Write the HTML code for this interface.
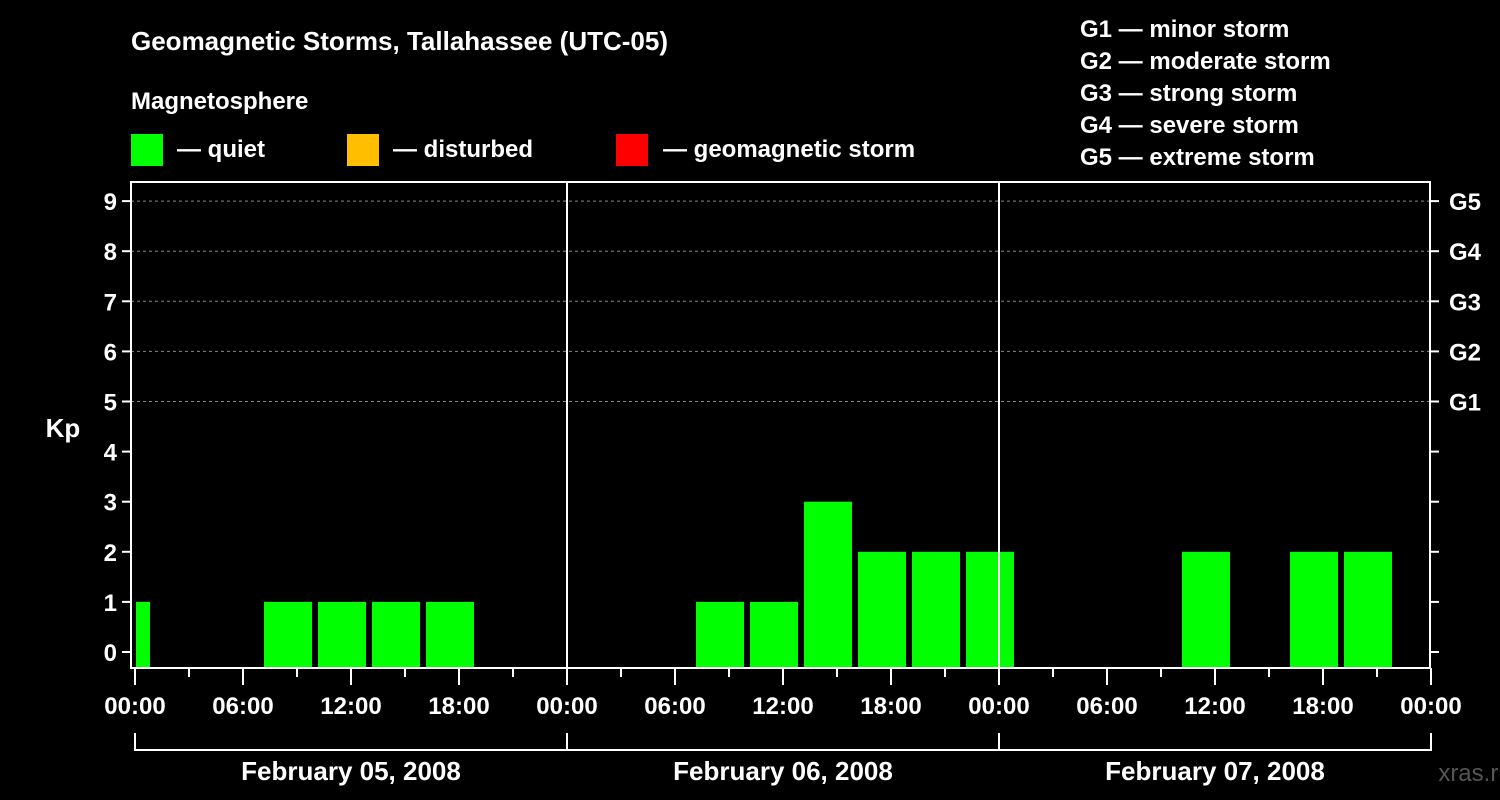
<!DOCTYPE html>
<html><head><meta charset="utf-8"><style>
body{margin:0;background:#000;}
svg{display:block;font-family:"Liberation Sans",sans-serif;font-weight:bold;}
</style></head><body>
<svg width="1500" height="800" viewBox="0 0 1500 800">
<rect x="0" y="0" width="1500" height="800" fill="#000"/>
<text x="131" y="50" font-size="26" fill="#fff">Geomagnetic Storms, Tallahassee (UTC-05)</text>
<text x="131" y="109" font-size="24" fill="#fff">Magnetosphere</text>
<g><rect x="131" y="134" width="32" height="32" fill="#00ff00"/><text x="177" y="157" font-size="24" fill="#fff">— quiet</text></g>
<g><rect x="347" y="134" width="32" height="32" fill="#ffbf00"/><text x="393" y="157" font-size="24" fill="#fff">— disturbed</text></g>
<g><rect x="616" y="134" width="32" height="32" fill="#ff0000"/><text x="663" y="157" font-size="24" fill="#fff">— geomagnetic storm</text></g>
<g font-size="24" fill="#fff">
<text x="1080" y="37">G1 — minor storm</text>
<text x="1080" y="69">G2 — moderate storm</text>
<text x="1080" y="101">G3 — strong storm</text>
<text x="1080" y="133">G4 — severe storm</text>
<text x="1080" y="165">G5 — extreme storm</text>
</g>
<text x="63" y="437" font-size="26" fill="#fff" text-anchor="middle">Kp</text>
<text x="1475" y="781" font-size="24" fill="#555" text-anchor="middle" font-weight="normal">xras.ru</text>
<g id="grid"></g>
<g id="bars"></g>
<g id="axes"></g>
</svg>
<script>
const kpValues = [1,0,0,1,1,1,1,0, 0,0,0,1,1,3,2,2, 2,0,0,0,2,0,2,2, 0];
const binStartHours = [-2,1,4,7,10,13,16,19, 22,25,28,31,34,37,40,43, 46,49,52,55,58,61,64,67, 70];
const dayLabels = ["February 05, 2008","February 06, 2008","February 07, 2008"];
const hourLabels = ["00:00","06:00","12:00","18:00"];
const yTicks = [0,1,2,3,4,5,6,7,8,9];
const gLabels = {5:"G1",6:"G2",7:"G3",8:"G4",9:"G5"};

const NS="http://www.w3.org/2000/svg";
const X0=135, PXH=18, LEFT=131, RIGHT=1430, TOP=182, BOT=668;
const xs=h=>X0+h*PXH;
const ys=k=>652-k*50.1;
function mk(tag,attrs,parent){const e=document.createElementNS(NS,tag);for(const k in attrs)e.setAttribute(k,attrs[k]);parent.appendChild(e);return e;}
const grid=document.getElementById('grid'),bars=document.getElementById('bars'),axes=document.getElementById('axes');

yTicks.forEach(k=>{
  if(k>=5){const l=mk('line',{x1:LEFT,x2:RIGHT,y1:ys(k),y2:ys(k),stroke:'#888','stroke-dasharray':'3,3','stroke-width':1},grid);
  
  }
  mk('line',{x1:LEFT-9,x2:LEFT,y1:ys(k),y2:ys(k),stroke:'#fff','stroke-width':2},axes);
  mk('line',{x1:RIGHT,x2:RIGHT+9,y1:ys(k),y2:ys(k),stroke:'#fff','stroke-width':2},axes);
  const t=mk('text',{x:LEFT-14,y:ys(k)+9,'font-size':24,fill:'#fff','text-anchor':'end'},axes);
  t.textContent=k;
  
  
  if(gLabels[k]){const g=mk('text',{x:RIGHT+19,y:ys(k)+9,'font-size':24,fill:'#fff'},axes);g.textContent=gLabels[k];
  
  }
});

kpValues.forEach((v,i)=>{
  if(v<=0)return;
  let x1=Math.max(xs(binStartHours[i])+3,LEFT+5), x2=Math.min(xs(binStartHours[i]+3)-3,RIGHT-1);
  const clipL=xs(binStartHours[i])<LEFT; if(clipL){x1=136;x2=Math.min(x2,150);}
  const c=v>=5?'#ff0000':(v>=4?'#ffbf00':'#00ff00');
  const r=mk('rect',{x:x1,y:ys(v),width:x2-x1,height:BOT-1-ys(v),fill:c},bars);
  
  
});

// frame
const f=mk('rect',{x:LEFT,y:TOP,width:RIGHT-LEFT,height:BOT-TOP,fill:'none',stroke:'#fff','stroke-width':2},axes);


for(let d=1;d<3;d++){const l=mk('line',{x1:xs(24*d),x2:xs(24*d),y1:TOP,y2:BOT,stroke:'#fff','stroke-width':2},axes);

}
for(let h=0;h<=72;h+=3){
  const major=h%6===0;
  mk('line',{x1:xs(h),x2:xs(h),y1:BOT,y2:BOT+(major?17:9),stroke:'#fff','stroke-width':2},axes);
  if(major){const t=mk('text',{x:xs(h),y:714,'font-size':24,fill:'#fff','text-anchor':'middle'},axes);
  t.textContent=hourLabels[(h/6)%4];
  
  }
}
dayLabels.forEach((lab,d)=>{
  const a=xs(24*d),b=xs(24*(d+1));
  mk('path',{d:`M${a},733V750H${b}V733`,stroke:'#fff','stroke-width':2,fill:'none'},axes);
  const t=mk('text',{x:(a+b)/2,y:780,'font-size':26,fill:'#fff','text-anchor':'middle'},axes);
  t.textContent=lab;
  
  
});
</script>
</body></html>
